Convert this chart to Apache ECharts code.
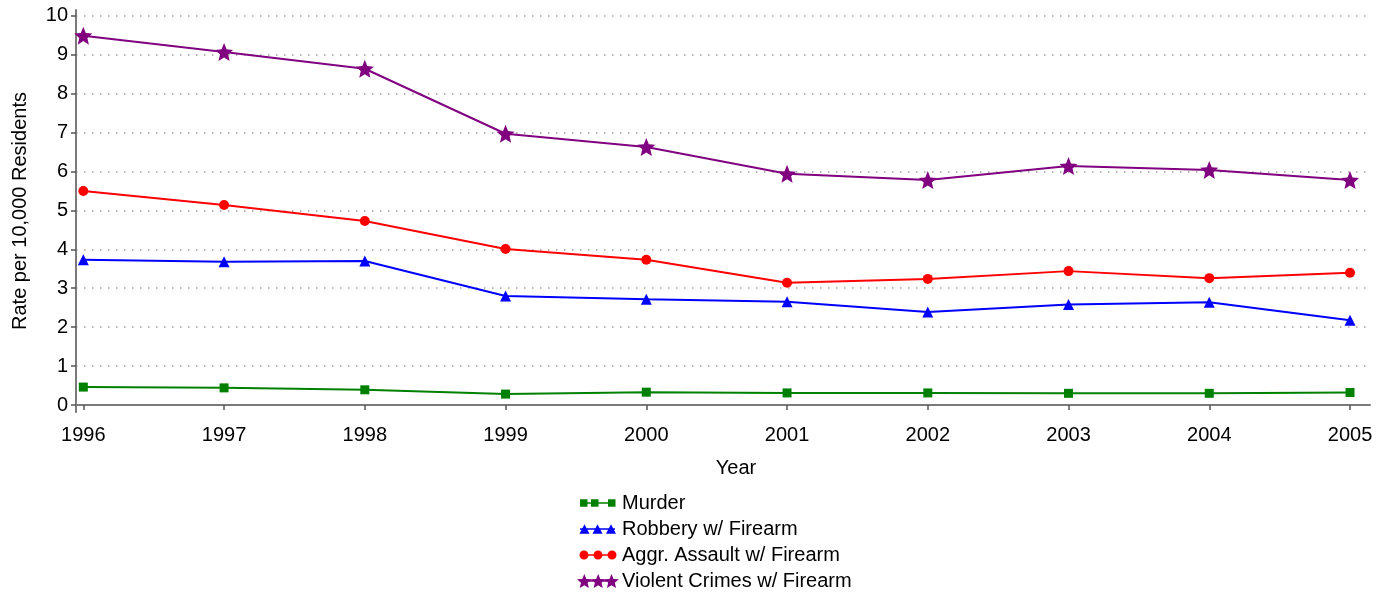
<!DOCTYPE html>
<html><head><meta charset="utf-8">
<script src="https://cdn.jsdelivr.net/npm/echarts@6/dist/echarts.min.js"></script>
<style>html,body{margin:0;padding:0;background:#fff}#c{width:1386px;height:594px}</style>
</head><body><div id="c"></div>
<script>
const years = [1996,1997,1998,1999,2000,2001,2002,2003,2004,2005];
const yTicks = [0,1,2,3,4,5,6,7,8,9,10];
const murder = [0.46,0.44,0.39,0.28,0.33,0.31,0.31,0.30,0.30,0.32];
const robbery = [3.73,3.68,3.70,2.80,2.72,2.65,2.39,2.58,2.64,2.18];
const assault = [5.50,5.14,4.73,4.01,3.73,3.14,3.24,3.44,3.26,3.40];
const violent = [9.49,9.07,8.64,6.97,6.63,5.94,5.78,6.14,6.04,5.78];

function f(n){return (Math.round(n*1000)/1000).toString();}
function star(cx, cy, r){
  let s='';
  for(let k=0;k<10;k++){
    const a=(-90+k*36)*Math.PI/180;
    const rr = (k%2===0)? r : r*0.45;
    s += (k===0?'M':'L') + f(cx+rr*Math.cos(a)) + ',' + f(cy+rr*Math.sin(a));
  }
  return s+'Z';
}
function tri(cx, h, w){ return 'M'+f(cx)+','+f(7-h/2)+'L'+f(cx+w/2)+','+f(7+h/2)+'L'+f(cx-w/2)+','+f(7+h/2)+'Z'; }
function sq(x0, s){ return 'M'+f(x0)+','+f(7-s/2)+'h'+s+'v'+s+'h'+(-s)+'Z'; }
function circ(cx, r){ return 'M'+f(cx)+','+f(7-r)+'A'+r+','+r+',0,1,1,'+f(cx)+','+f(7+r)+'A'+r+','+r+',0,1,1,'+f(cx)+','+f(7-r)+'Z'; }
const corners = 'M0,0M44,14';
const line = (x0,x1)=>'M'+x0+',6.2H'+x1+'V7.8H'+x0+'Z';
const iconSquares = 'path://' + corners + sq(4,7.5) + sq(15,7.5) + sq(32,7.5) + line(4,39);
const iconTri = 'path://' + corners + tri(8.5,9.5,10) + tri(21.5,9.5,10) + tri(35,9.5,10) + line(4,39);
const iconCirc = 'path://' + corners + circ(8,4.5) + circ(22,4.5) + circ(36,4.5) + line(4,39);
const iconStars = 'path://' + corners + star(8.2,7.7,7.8) + star(22.2,7.7,7.8) + star(35.6,7.7,7.8) + line(4,39);
const starSymbol = 'path://' + star(10,10.5,10);

const pairs = arr => years.map((y,i)=>[y,arr[i]]);
const font = 'Liberation Sans, Arial, sans-serif';
const axisCol = '#7a7a7a';

const chart = echarts.init(document.getElementById('c'), null, {renderer:'canvas'});
chart.setOption({
  animation:false,
  backgroundColor:'#fff',
  grid:{left:76,right:16,top:10,bottom:182,containLabel:false},
  xAxis:{
    type:'value', min:1995.948, max:2005.142,
    name:'Year', nameLocation:'middle', nameGap:46,
    nameTextStyle:{fontSize:20,color:'#000',fontFamily:font,padding:[0,0,0,26]},
    axisLine:{show:true,lineStyle:{color:axisCol,width:2}},
    axisTick:{show:true,length:5,lineStyle:{color:'#555',width:1.5},customValues:years},
    axisLabel:{fontSize:20,color:'#000',fontFamily:font,margin:13,customValues:years,formatter:v=>String(Math.round(v))},
    splitLine:{show:false}
  },
  yAxis:{
    type:'value', min:-0.18, max:10.15,
    name:'Rate per 10,000 Residents', nameLocation:'middle', nameGap:46,
    nameTextStyle:{fontSize:20,color:'#000',fontFamily:font},
    axisLine:{show:true,lineStyle:{color:axisCol,width:2}},
    axisTick:{show:true,length:5,lineStyle:{color:'#555',width:1.5},customValues:yTicks},
    axisLabel:{fontSize:20,color:'#000',fontFamily:font,margin:8,customValues:yTicks},
    splitLine:{show:true,lineStyle:{color:'#a0a0a0',type:[1.5,6.5],width:1.5}}
  },
  legend:{
    orient:'vertical', left:576, top:493, itemGap:6, padding:0,
    itemWidth:44, itemHeight:14,
    textStyle:{fontSize:20,lineHeight:20,color:'#000',fontFamily:font,padding:[0,0,0,-3]},
    data:[
      {name:'Murder',icon:iconSquares,itemStyle:{color:'#008000'}},
      {name:'Robbery w/ Firearm',icon:iconTri,itemStyle:{color:'#0000ff'}},
      {name:'Aggr. Assault w/ Firearm',icon:iconCirc,itemStyle:{color:'#ff0000'}},
      {name:'Violent Crimes w/ Firearm',icon:iconStars,itemStyle:{color:'#800080'}}
    ]
  },
  series:[
    {name:'Murder',type:'line',data:pairs(murder),symbol:'rect',symbolSize:9,color:'#008000',lineStyle:{width:2},itemStyle:{color:'#008000'}},
    {name:'Robbery w/ Firearm',type:'line',data:pairs(robbery),symbol:'triangle',symbolSize:11,color:'#0000ff',lineStyle:{width:2},itemStyle:{color:'#0000ff'}},
    {name:'Aggr. Assault w/ Firearm',type:'line',data:pairs(assault),symbol:'circle',symbolSize:10,color:'#ff0000',lineStyle:{width:2},itemStyle:{color:'#ff0000'}},
    {name:'Violent Crimes w/ Firearm',type:'line',data:pairs(violent),symbol:starSymbol,symbolSize:18,color:'#800080',lineStyle:{width:2},itemStyle:{color:'#800080'}}
  ]
});
</script></body></html>
